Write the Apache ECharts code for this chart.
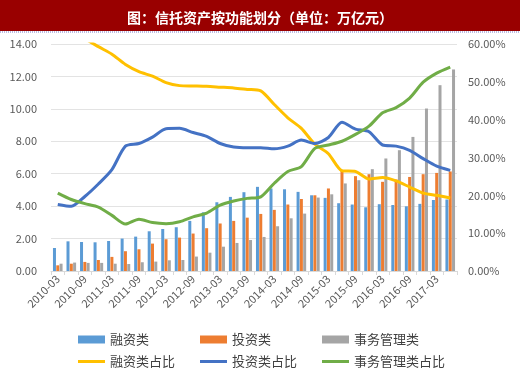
<!DOCTYPE html>
<html><head><meta charset="utf-8">
<script src="https://cdn.jsdelivr.net/npm/echarts@6/dist/echarts.min.js"></script>
<style>html,body{margin:0;padding:0;background:#fff}#c{width:520px;height:373px}</style>
</head><body><div id="c"></div>
<script>
const categories = ['2010-03','2010-06','2010-09','2010-12','2011-03','2011-06','2011-09','2011-12','2012-03','2012-06','2012-09','2012-12','2013-03','2013-06','2013-09','2013-12','2014-03','2014-06','2014-09','2014-12','2015-03','2015-06','2015-09','2015-12','2016-03','2016-06','2016-09','2016-12','2017-03','2017-06'];
const financing = [1.42,1.83,1.79,1.77,1.85,2.00,2.12,2.45,2.59,2.70,3.09,3.62,4.24,4.57,4.86,5.19,5.09,5.04,4.88,4.67,4.51,4.18,4.10,3.93,4.12,4.07,3.99,4.14,4.38,4.41];
const investment = [0.35,0.45,0.56,0.68,0.87,1.22,1.34,1.69,1.96,2.06,2.31,2.64,2.93,3.09,3.29,3.52,3.77,4.10,4.44,4.67,5.09,6.17,5.85,5.97,5.50,5.64,5.80,5.97,6.05,6.14];
const affairs = [0.45,0.52,0.50,0.50,0.45,0.43,0.54,0.58,0.66,0.68,0.89,1.13,1.50,1.73,1.91,2.10,2.76,3.25,3.54,4.53,4.73,5.40,5.60,6.28,6.94,7.45,8.27,10.02,11.46,12.43];
const financingShare = [64.0,65.2,61.5,59.3,57.3,54.6,52.7,51.5,49.8,49.0,48.9,48.8,48.6,48.4,48.0,47.6,44.0,40.5,37.7,33.5,31.0,26.5,26.3,24.3,24.7,23.8,22.2,20.6,20.0,19.3];
const investmentShare = [17.6,17.1,19.7,23.0,26.8,33.0,33.7,35.4,37.6,37.7,36.6,35.6,33.7,32.8,32.6,32.6,32.3,33.0,34.6,33.7,35.3,39.3,37.5,36.8,33.3,33.0,31.9,29.7,27.7,26.6];
const affairsShare = [20.6,18.9,17.8,16.9,14.7,12.4,13.7,12.8,12.5,13.0,14.3,15.3,17.4,18.5,19.2,19.6,23.2,26.3,27.6,32.4,33.3,34.3,36.1,38.3,41.8,43.2,45.7,49.9,52.3,53.9];
const leftTicks = {min:0,max:14,interval:2};
const rightTicks = {min:0,max:60,interval:10};
const names = ['融资类','投资类','事务管理类','融资类占比','投资类占比','事务管理类占比'];
const colors = ['#5B9BD5','#ED7D31','#A5A5A5','#FFC000','#4472C4','#70AD47'];

const chart = echarts.init(document.getElementById('c'));
const font = '"Noto Sans CJK SC", "Noto Sans", sans-serif';
const legendPos = [[78,333],[200,333],[322,333],[78,355],[200,355],[322,355]];
const legends = names.map((n,i)=>({
  data:[{name:n, icon:'rect'}], left:legendPos[i][0], top:legendPos[i][1], padding:0,
  itemWidth:27, itemHeight: i<3 ? 8 : 3, itemGap:0,
  textStyle:{fontSize:13,color:'#404040',fontFamily:font}
}));
const barSeries = [financing, investment, affairs].map((d,i)=>({
  name:names[i], type:'bar', data:d, barWidth:3, barGap:'10%',
  itemStyle:{color:colors[i]}
}));
const lineSeries = [financingShare, investmentShare, affairsShare].map((d,i)=>({
  name:names[i+3], type:'line', yAxisIndex:1, data:d, smooth:0.25,
  symbol:'none', showSymbol:false, clip:true,
  lineStyle:{color:colors[i+3], width:3}, itemStyle:{color:colors[i+3]}
}));
chart.setOption({
  animation:false,
  textStyle:{fontFamily:font},
  graphic:[
    {type:'rect', shape:{x:0,y:0,width:520,height:31}, style:{fill:'#990000'}, z:0},
    {type:'line', shape:{x1:0,y1:32,x2:520,y2:32}, style:{stroke:'#7b7bc8',lineWidth:1,lineDash:[1,1]}, z:0}
  ],
  title:{text:'图：信托资产按功能划分（单位：万亿元）', left:'center', top:6,
    textStyle:{color:'#ffffff',fontSize:14,fontWeight:'bold',fontFamily:font}},
  legend:legends,
  grid:{left:51, right:63, top:44, bottom:102, containLabel:false},
  xAxis:{type:'category', data:categories,
    axisLine:{lineStyle:{color:'#D9D9D9'}},
    axisTick:{show:true, interval:0, length:4, lineStyle:{color:'#D9D9D9'}},
    axisLabel:{interval:1, rotate:45, fontSize:11, color:'#595959', margin:6, fontFamily:font}},
  yAxis:[
    {type:'value', min:leftTicks.min, max:leftTicks.max, interval:leftTicks.interval,
      axisLine:{show:false}, axisTick:{show:false},
      splitLine:{lineStyle:{color:'#E3E3E3'}},
      axisLabel:{formatter:v=>v.toFixed(2), fontSize:11, color:'#595959', margin:14, fontFamily:font}},
    {type:'value', min:rightTicks.min, max:rightTicks.max, interval:rightTicks.interval,
      axisLine:{show:false}, axisTick:{show:false}, splitLine:{show:false},
      axisLabel:{formatter:v=>v.toFixed(2)+'%', fontSize:11, color:'#595959', margin:11, fontFamily:font}}
  ],
  series:[...barSeries, ...lineSeries]
});
</script></body></html>
